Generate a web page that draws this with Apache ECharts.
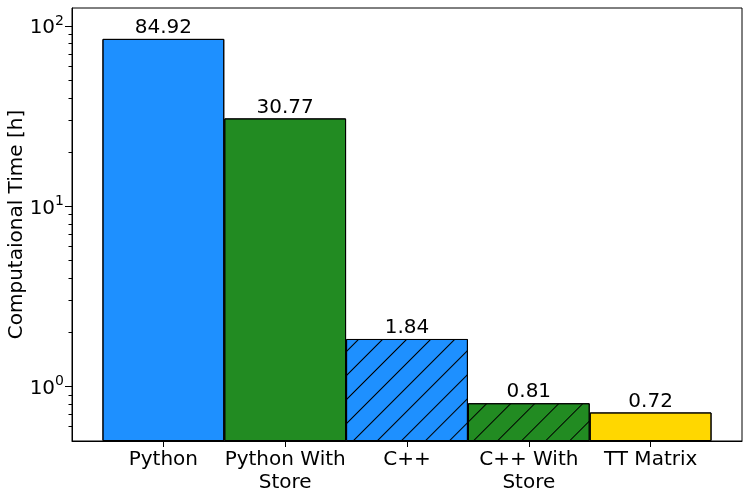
<!DOCTYPE html>
<html>
<head>
<meta charset="utf-8">
<script src="https://cdn.jsdelivr.net/npm/echarts@6/dist/echarts.min.js"></script>
<style>
  html, body { margin: 0; padding: 0; background: #fff; }
  #chart { width: 749px; height: 497px; }
</style>
</head>
<body>
<div id="chart"></div>
<script>
const categories = ['Python', 'Python With\nStore', 'C++', 'C++ With\nStore', 'TT Matrix']
const times = [84.92, 30.77, 1.84, 0.81, 0.72]
const barColors = ['#1e90ff', '#228b22', '#1e90ff', '#228b22', '#ffd700']
const hatched = [false, false, true, true, false]
const majorTicks = [1, 10, 100]
const majorExponents = { 1: '0', 10: '1', 100: '2' }
const minorTicks = [0.6, 0.7, 0.8, 0.9, 2, 3, 4, 5, 6, 7, 8, 9, 20, 30, 40, 50, 60, 70, 80, 90]

const mychart = echarts.init(document.getElementById('chart'))
const font = 'DejaVu Sans'

const hatch = {
  symbol: 'rect',
  symbolSize: 1,
  color: '#000',
  backgroundColor: null,
  dashArrayX: [1, 0],
  dashArrayY: [1, 16],
  rotation: -Math.PI / 4
}

const option = {
  animation: false,
  textStyle: { fontFamily: font },
  grid: {
    left: 72,
    right: 7,
    top: 8,
    bottom: 56,
    outerBoundsMode: 'none',
    containLabel: false,
    show: true,
    borderColor: '#000',
    borderWidth: 1
  },
  xAxis: {
    type: 'value',
    min: -0.75,
    max: 4.75,
    splitLine: { show: false },
    axisLine: { show: true, onZero: false, lineStyle: { color: '#000' } },
    axisTick: {
      show: true,
      customValues: [0, 1, 2, 3, 4],
      length: 6,
      lineStyle: { color: '#000' }
    },
    axisLabel: {
      customValues: [0, 1, 2, 3, 4],
      formatter: v => categories[Math.round(v)],
      fontSize: 20,
      color: '#000',
      lineHeight: 23,
      margin: 7
    }
  },
  yAxis: [{
    type: 'log',
    logBase: 10,
    min: 0.5,
    max: 126,
    startValue: 0.5,
    name: 'Computaional Time [h]',
    nameLocation: 'middle',
    nameGap: 45,
    nameMoveOverlap: false,
    nameTextStyle: { fontSize: 20, color: '#000', fontFamily: font },
    splitLine: { show: false },
    axisLine: { show: true, onZero: false, lineStyle: { color: '#000' } },
    axisTick: {
      show: true,
      customValues: majorTicks,
      length: 7,
      lineStyle: { color: '#000' }
    },
    axisLabel: {
      customValues: majorTicks,
      formatter: v => '{n|10}{s|' + majorExponents[Math.round(v)] + '}',
      color: '#000',
      margin: 8,
      rich: {
        n: { fontSize: 20, fontFamily: font, color: '#000', lineHeight: 24, verticalAlign: 'bottom' },
        s: { fontSize: 14, fontFamily: font, color: '#000', lineHeight: 24, verticalAlign: 'top', padding: [0, 0, 8, 0] }
      }
    }
  }, {
    type: 'log',
    logBase: 10,
    min: 0.5,
    max: 126,
    position: 'left',
    splitLine: { show: false },
    axisLine: { show: false, onZero: false },
    axisTick: {
      show: true,
      customValues: minorTicks,
      length: 3.5,
      lineStyle: { color: '#000' }
    },
    axisLabel: { show: false }
  }],
  series: [{
    type: 'bar',
    barWidth: '100%',
    yAxisIndex: 0,
    label: {
      show: true,
      position: 'top',
      distance: 1,
      fontSize: 20,
      color: '#000',
      fontFamily: font,
      formatter: p => p.value[1].toFixed(2)
    },
    data: times.map((t, i) => ({
      value: [i, t],
      itemStyle: {
        color: barColors[i],
        borderColor: '#000',
        borderWidth: 1,
        decal: hatched[i] ? hatch : { symbol: 'none' }
      }
    }))
  }]
}
mychart.setOption(option)
window.addEventListener('resize', function () {
  mychart.resize()
})
</script>
</body>
</html>
